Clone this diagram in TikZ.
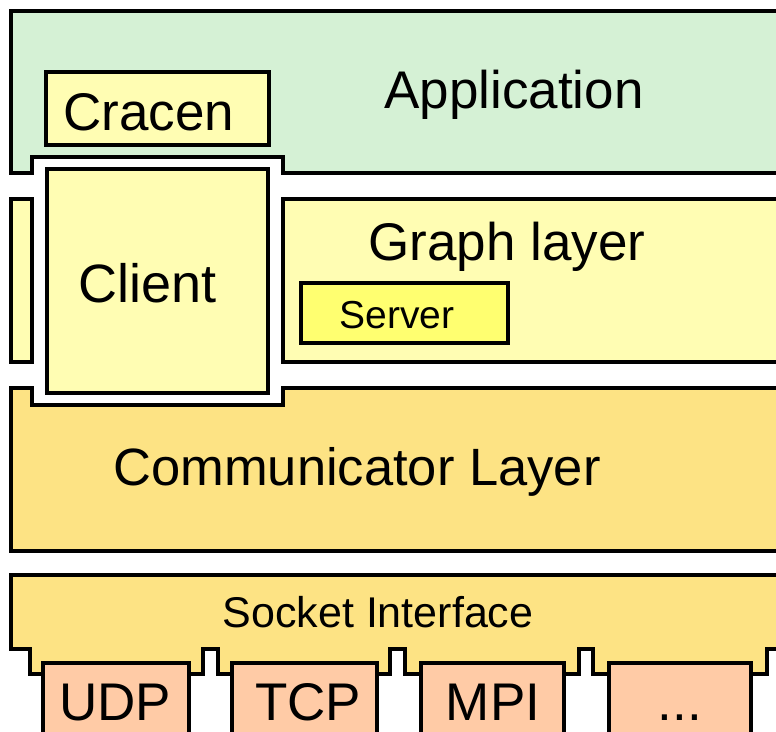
\documentclass[tikz,border=0pt]{standalone}
\usepackage{fontspec}
\setmainfont{Liberation Sans}
\definecolor{appgreen}{HTML}{D5F1D5}
\definecolor{paleyellow}{HTML}{FFFDB3}
\definecolor{serveryellow}{HTML}{FFFF70}
\definecolor{commyellow}{HTML}{FDE384}
\definecolor{salmon}{HTML}{FFCBA6}
\tikzset{
  layer/.style={draw=black, line width=3.3pt, line join=miter},
  lbl/.style={anchor=base, inner sep=0pt, text=black},
}
\begin{document}
\begin{tikzpicture}[x=1pt, y=-1pt]
\useasboundingbox (0,0) rectangle (776,731);
\clip (0,0) rectangle (776,731);

% Application layer with a notch for the client
\draw[layer, fill=appgreen]
  (11,11) -- (790,11) -- (790,173) -- (283,173) -- (283,157)
  -- (32,157) -- (32,173) -- (11,173) -- cycle;
\draw[layer, fill=paleyellow] (46,72) rectangle (269,145);

% Graph layer, split around the client
\draw[layer, fill=paleyellow] (11,199) rectangle (32,362);
\draw[layer, fill=paleyellow] (283,199) rectangle (790,362);
\draw[layer, fill=serveryellow] (301,283) rectangle (508,343);

% Client spanning the upper layers
\draw[layer, fill=paleyellow] (47,169) rectangle (268,393);

% Communicator layer with a notch for the client
\draw[layer, fill=commyellow]
  (11,388) -- (32,388) -- (32,405) -- (283,405) -- (283,388)
  -- (790,388) -- (790,551) -- (11,551) -- cycle;

% Socket interface with tabs between the transports
\draw[layer, fill=commyellow]
  (11,575) -- (790,575) -- (790,649) -- (767,649) -- (767,674)
  -- (593,674) -- (593,649) -- (579,649) -- (579,674)
  -- (405,674) -- (405,649) -- (390,649) -- (390,674)
  -- (218,674) -- (218,649) -- (203,649) -- (203,674)
  -- (30,674) -- (30,649) -- (11,649) -- cycle;

% Transport boxes
\draw[layer, fill=salmon] (43,663) rectangle (189,760);
\draw[layer, fill=salmon] (232,663) rectangle (377,760);
\draw[layer, fill=salmon] (421,663) rectangle (564,760);
\draw[layer, fill=salmon] (609,663) rectangle (751,760);

% Labels
\node[lbl, font=\fontsize{53}{60}\selectfont] (app) at (514,108) {Application};
\node[lbl, font=\fontsize{53}{60}\selectfont] (cracen) at (149,130) {Cracen};
\node[lbl, font=\fontsize{54}{60}\selectfont] (client) at (148,302) {Client};
\node[lbl, font=\fontsize{53}{60}\selectfont] (graph) at (507,260) {Graph layer};
\node[lbl, font=\fontsize{39}{46}\selectfont] (server) at (397,328) {Server};
\node[lbl, font=\fontsize{52.5}{60}\selectfont] (comm) at (357,485) {Communicator Layer};
\node[lbl, font=\fontsize{43}{50}\selectfont] (socket) at (378,627) {Socket Interface};
\node[lbl, font=\fontsize{53}{60}\selectfont] (udp) at (115,720) {UDP};
\node[lbl, font=\fontsize{53}{60}\selectfont] (tcp) at (308,720) {TCP};
\node[lbl, font=\fontsize{53}{60}\selectfont] (mpi) at (493,720) {MPI};
\node[lbl, font=\fontsize{53}{60}\selectfont] (more) at (680,720) {...};
\end{tikzpicture}
\end{document}
